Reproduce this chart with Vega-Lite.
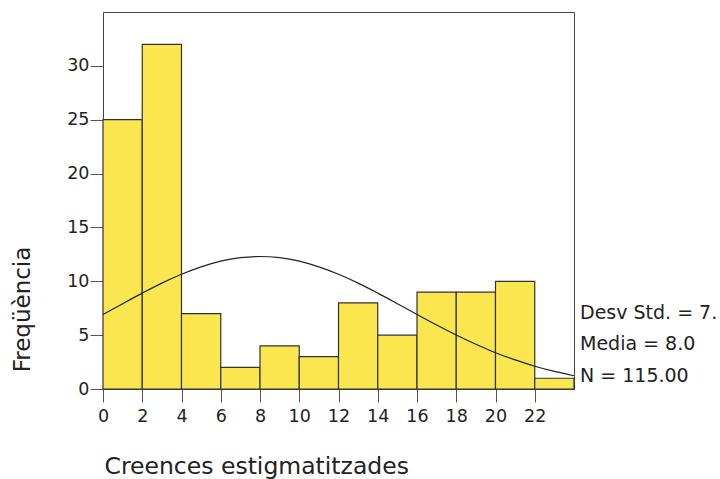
{
  "$schema": "https://vega.github.io/schema/vega-lite/v6.json",
  "width": 471,
  "height": 377,
  "autosize": "none",
  "padding": {"left": 103, "top": 12, "right": 146, "bottom": 90},
  "background": "white",
  "config": {
    "font": "DejaVu Sans",
    "view": {"stroke": "#444", "strokeWidth": 1}
  },
  "datasets": {
    "bins": [
      {"lo": 0, "hi": 2, "count": 25},
      {"lo": 2, "hi": 4, "count": 32},
      {"lo": 4, "hi": 6, "count": 7},
      {"lo": 6, "hi": 8, "count": 2},
      {"lo": 8, "hi": 10, "count": 4},
      {"lo": 10, "hi": 12, "count": 3},
      {"lo": 12, "hi": 14, "count": 8},
      {"lo": 14, "hi": 16, "count": 5},
      {"lo": 16, "hi": 18, "count": 9},
      {"lo": 18, "hi": 20, "count": 9},
      {"lo": 20, "hi": 22, "count": 10},
      {"lo": 22, "hi": 24, "count": 1}
    ],
    "curve": [
      {"x": 0, "y": 6.92}, {"x": 1, "y": 7.92}, {"x": 2, "y": 8.90}, {"x": 3, "y": 9.83},
      {"x": 4, "y": 10.65}, {"x": 5, "y": 11.34}, {"x": 6, "y": 11.87}, {"x": 7, "y": 12.19},
      {"x": 8, "y": 12.30}, {"x": 9, "y": 12.19}, {"x": 10, "y": 11.87}, {"x": 11, "y": 11.34},
      {"x": 12, "y": 10.65}, {"x": 13, "y": 9.83}, {"x": 14, "y": 8.90}, {"x": 15, "y": 7.92},
      {"x": 16, "y": 6.92}, {"x": 17, "y": 5.94}, {"x": 18, "y": 5.01}, {"x": 19, "y": 4.15},
      {"x": 20, "y": 3.37}, {"x": 21, "y": 2.70}, {"x": 22, "y": 2.11}, {"x": 23, "y": 1.63},
      {"x": 24, "y": 1.23}
    ],
    "stats": [
      {"label": "Desv Std. = 7.", "x": 24, "y": 7.05},
      {"label": "Media = 8.0", "x": 24, "y": 4.2},
      {"label": "N = 115.00", "x": 24, "y": 1.2}
    ]
  },
  "layer": [
    {
      "data": {"name": "bins"},
      "mark": {"type": "rect", "fill": "#fae64e", "stroke": "#333", "strokeWidth": 1.2},
      "encoding": {
        "x": {
          "field": "lo", "type": "quantitative",
          "scale": {"domain": [0, 24], "nice": false, "zero": false},
          "axis": {
            "values": [0, 2, 4, 6, 8, 10, 12, 14, 16, 18, 20, 22],
            "grid": false, "tickSize": 13, "tickColor": "#555", "domainColor": "#444",
            "labelFontSize": 17.5, "labelColor": "#222", "labelPadding": 5,
            "labelFlush": false,
            "title": "Creences estigmatitzades", "titleFontSize": 23.5, "titleFontWeight": "normal",
            "titleColor": "#222", "titleAnchor": "start", "titleAlign": "left",
            "titleX": 1, "titleY": 77, "titleBaseline": "middle"
          }
        },
        "x2": {"field": "hi"},
        "y": {
          "field": "count", "type": "quantitative",
          "scale": {"domain": [0, 35], "nice": false},
          "axis": {
            "values": [0, 5, 10, 15, 20, 25, 30],
            "grid": false, "tickSize": 13, "tickColor": "#555", "domainColor": "#444",
            "labelFontSize": 17.5, "labelColor": "#222", "labelPadding": 1,
            "title": "Freqüència", "titleFontSize": 23, "titleFontWeight": "normal",
            "titleColor": "#222", "titleAngle": -90, "titleAlign": "center",
            "titleBaseline": "middle", "titleX": -81, "titleY": 297
          }
        },
        "y2": {"datum": 0}
      }
    },
    {
      "data": {"name": "curve"},
      "mark": {"type": "line", "color": "#222", "strokeWidth": 1.2, "interpolate": "monotone"},
      "encoding": {
        "x": {"field": "x", "type": "quantitative"},
        "y": {"field": "y", "type": "quantitative"}
      }
    },
    {
      "data": {"name": "stats"},
      "mark": {"type": "text", "align": "left", "baseline": "middle", "dx": 6, "fontSize": 19, "color": "#222", "clip": false},
      "encoding": {
        "x": {"field": "x", "type": "quantitative"},
        "y": {"field": "y", "type": "quantitative"},
        "text": {"field": "label"}
      }
    }
  ]
}
